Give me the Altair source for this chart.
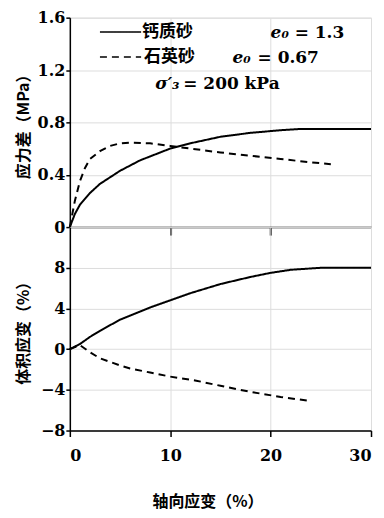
import altair as alt
import pandas as pd

# Stress difference (MPa) vs axial strain (%)
calc_q_x = [0, 0.5, 1, 2, 3, 5, 7, 10, 12, 15, 18, 21, 23, 25, 30]
calc_q_y = [0, 0.10, 0.17, 0.26, 0.33, 0.43, 0.51, 0.60, 0.64, 0.69, 0.72, 0.74, 0.75, 0.75, 0.75]
quartz_q_x = [0, 0.5, 1, 1.5, 2, 3, 4, 5, 6, 8, 10, 12, 15, 18, 21, 24, 26]
quartz_q_y = [0, 0.20, 0.35, 0.45, 0.52, 0.58, 0.62, 0.64, 0.645, 0.64, 0.62, 0.60, 0.57, 0.545, 0.52, 0.495, 0.48]

# Volumetric strain (%) vs axial strain (%)
calc_v_x = [0, 1, 2, 3, 5, 8, 10, 12, 15, 18, 20, 22, 25, 30]
calc_v_y = [0, 0.5, 1.2, 1.8, 2.9, 4.1, 4.8, 5.5, 6.4, 7.1, 7.5, 7.8, 8.0, 8.0]
quartz_v_x = [0, 1, 2, 3, 5, 6, 8, 10, 12.6, 15, 18, 21, 24]
quartz_v_y = [0, 0.4, -0.3, -0.9, -1.6, -1.9, -2.3, -2.7, -3.1, -3.6, -4.2, -4.7, -5.1]

series_names = ["钙质砂", "石英砂"]
x_ticks = [0, 10, 20, 30]
q_ticks = [0, 0.4, 0.8, 1.2, 1.6]
v_ticks = [-8, -4, 0, 4, 8]

NUM_FONT = "DejaVu Serif"
CJK_FONT = "Noto Sans CJK SC"

def frame(xs, ys, name):
    return pd.DataFrame({"x": xs, "y": ys, "s": name})

q_df = pd.concat([frame(calc_q_x, calc_q_y, series_names[0]),
                  frame(quartz_q_x, quartz_q_y, series_names[1])])
v_df = pd.concat([frame(calc_v_x, calc_v_y, series_names[0]),
                  frame(quartz_v_x, quartz_v_y, series_names[1])])

dash_scale = alt.Scale(domain=series_names, range=[[1, 0], [7, 5]])

W = 302
xs = alt.Scale(domain=[0, 30], nice=False)

ylab = dict(labelFont=NUM_FONT, labelFontSize=16, labelFontWeight="bold",
            labelColor="black", tickSize=4, tickColor="black", tickWidth=1.5,
            domainColor="black", domainWidth=1.5, labelPadding=1,
            titleFont=CJK_FONT, titleFontSize=16, titleFontWeight="bold",
            titleColor="black", titleX=-46, titleBaseline="middle")

top_lines = alt.Chart(q_df).mark_line(color="black", strokeWidth=2).encode(
    x=alt.X("x:Q", scale=xs, axis=alt.Axis(values=[10, 20], labels=False, title=None,
                                            tickSize=8, tickColor="black", tickWidth=2,
                                            domainColor="black", domainWidth=1.5)),
    y=alt.Y("y:Q", scale=alt.Scale(domain=[0, 1.6], nice=False),
            axis=alt.Axis(values=q_ticks, title="应力差（MPa）",
                          labelExpr="datum.value == 0 ? '0' : format(datum.value, '.1f')", **ylab)),
    strokeDash=alt.StrokeDash("s:N", scale=dash_scale, legend=None),
    detail="s:N",
)

# legend samples (in data units)
leg_lines = pd.DataFrame({"x": [3.0, 3.0], "x2": [7.1, 7.1], "y": [1.49, 1.30], "s": series_names})
leg_rule = alt.Chart(leg_lines).mark_rule(color="black", strokeWidth=1.5).encode(
    x="x:Q", x2="x2:Q", y="y:Q",
    strokeDash=alt.StrokeDash("s:N", scale=dash_scale, legend=None),
)
leg_text_df = pd.DataFrame({"x": [7.2, 7.4], "y": [1.49, 1.30], "t": series_names})
leg_text = alt.Chart(leg_text_df).mark_text(align="left", baseline="middle", font=CJK_FONT,
                                            fontSize=17, fontWeight="bold", color="black").encode(
    x="x:Q", y="y:Q", text="t:N")

e_df = pd.DataFrame({"x": [20.0, 16.2], "y": [1.48, 1.29], "t": ["e₀", "e₀"]})
e_text = alt.Chart(e_df).mark_text(align="left", baseline="middle", font=NUM_FONT, fontSize=17,
                                   fontStyle="italic", fontWeight="bold", color="black").encode(
    x="x:Q", y="y:Q", text="t:N")
ev_df = pd.DataFrame({"x": [22.4, 18.7], "y": [1.48, 1.29], "t": ["= 1.3", "= 0.67"]})
ev_text = alt.Chart(ev_df).mark_text(align="left", baseline="middle", font=NUM_FONT, fontSize=17,
                                     fontWeight="bold", color="black").encode(
    x="x:Q", y="y:Q", text="t:N")
s_df = pd.DataFrame({"x": [8.5], "y": [1.09], "t": ["σ′₃"]})
s_text = alt.Chart(s_df).mark_text(align="left", baseline="middle", font=NUM_FONT, fontSize=17,
                                   fontStyle="italic", fontWeight="bold", color="black").encode(
    x="x:Q", y="y:Q", text="t:N")
sv_df = pd.DataFrame({"x": [11.3], "y": [1.09], "t": ["= 200 kPa"]})
sv_text = alt.Chart(sv_df).mark_text(align="left", baseline="middle", font=NUM_FONT, fontSize=17,
                                     fontWeight="bold", color="black").encode(
    x="x:Q", y="y:Q", text="t:N")

top = alt.layer(top_lines, leg_rule, leg_text, e_text, ev_text, s_text, sv_text).properties(
    width=W, height=210)

bottom = alt.Chart(v_df).mark_line(color="black", strokeWidth=2).encode(
    x=alt.X("x:Q", scale=xs, axis=alt.Axis(values=x_ticks, title="轴向应变（%）",
                                            titleFont=CJK_FONT, titleFontSize=16,
                                            titleFontWeight="bold", titleColor="black",
                                            titlePadding=30, titleX=138,
                                            labelFont=NUM_FONT, labelFontSize=16,
                                            labelFontWeight="bold", labelColor="black",
                                            labelPadding=11,
                                            tickSize=6, tickColor="black", tickWidth=1.5,
                                            domainColor="black", domainWidth=1.5)),
    y=alt.Y("y:Q", scale=alt.Scale(domain=[-8, 12], nice=False),
            axis=alt.Axis(values=v_ticks, title="体积应变（%）",
                          labelExpr="datum.value < 0 ? '−' + abs(datum.value) : '' + datum.value", **ylab)),
    strokeDash=alt.StrokeDash("s:N", scale=dash_scale, legend=None),
    detail="s:N",
).properties(width=W, height=204)

chart = alt.vconcat(top, bottom, spacing=0, bounds="flush").configure_view(
    stroke="black", strokeWidth=1.5).configure(background="white", padding={"left": 7, "top": 0, "right": 0, "bottom": 0})

chart.save("out.html", embed_options={"renderer": "svg", "actions": False})
